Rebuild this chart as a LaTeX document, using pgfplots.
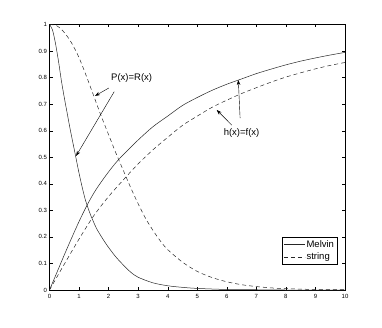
\documentclass[border=0pt]{standalone}
\usepackage{fontspec}
\setmainfont{Liberation Sans}
\usepackage{pgfplots}
\pgfplotsset{compat=1.18}
\usetikzlibrary{arrows.meta}

\begin{document}
\begin{tikzpicture}
\begin{axis}[
    name=ax, at={(0,0)}, anchor=south west,
    width=295.5pt, height=265.5pt, scale only axis,
    xmin=0, xmax=10, ymin=0, ymax=1,
    xtick={0,1,2,3,4,5,6,7,8,9,10},
    ytick={0,0.1,0.2,0.3,0.4,0.5,0.6,0.7,0.8,0.9,1},
    tick align=inside, major tick length=3pt,
    tick style={black, line width=0.4pt},
    axis line style={line width=0.6pt},
    ticklabel style={font=\fontsize{6}{7}\selectfont, /pgf/number format/assume math mode=true},
    yticklabel style={/pgf/number format/fixed, /pgf/number format/precision=1, xshift=1pt},
    xticklabel style={yshift=-1pt},
    legend style={at={(axis cs:9.74,0.097)}, anchor=south east, draw=black, line width=0.6pt,
        fill=white, font=\fontsize{9.5}{10}\selectfont, inner sep=1.5pt, row sep=1pt,
        nodes={inner sep=1.5pt}},
    legend cell align=left,
    legend image code/.code={\draw[#1] (0pt,0pt) -- (21pt,0pt);},
]

% Melvin, decreasing
\addplot[black!85, line width=0.5pt, smooth] coordinates {
    (0,1) (0.1,0.98) (0.2,0.93) (0.3,0.865) (0.4,0.79) (0.5,0.725) (0.6,0.665)
    (0.7,0.605) (0.8,0.55) (0.9,0.495) (1.0,0.44) (1.1,0.39) (1.2,0.345)
    (1.3,0.31) (1.4,0.28) (1.5,0.254) (1.6,0.23) (1.8,0.193) (2.0,0.16)
    (2.25,0.124) (2.5,0.094) (2.75,0.067) (3.0,0.048) (3.5,0.027) (4.0,0.016)
    (4.5,0.01) (5.0,0.006) (6,0.002) (7,0.001) (8,0) (10,0)
};
\addlegendentry{Melvin}

% string, decreasing
\addplot[black!85, line width=0.5pt, smooth, dash pattern=on 4pt off 3pt] coordinates {
    (0,1) (0.25,0.995) (0.5,0.97) (0.75,0.93) (1.0,0.875) (1.25,0.805)
    (1.5,0.73) (1.75,0.655) (2.0,0.585) (2.25,0.515) (2.5,0.45) (2.75,0.385)
    (3.0,0.325) (3.25,0.27) (3.5,0.225) (3.75,0.185) (4.0,0.152) (4.5,0.105)
    (5,0.07) (5.5,0.047) (6,0.031) (6.5,0.02) (7,0.013) (7.5,0.008) (8,0.005)
    (9,0.002) (10,0.001)
};
\addlegendentry{string}

% Melvin, increasing
\addplot[black!85, line width=0.5pt, smooth, forget plot] coordinates {
    (0,0) (0.25,0.066) (0.5,0.132) (0.75,0.196) (1.0,0.258) (1.25,0.315)
    (1.5,0.365) (1.75,0.407) (2.0,0.445) (2.25,0.48) (2.5,0.51) (3.0,0.565)
    (3.5,0.615) (4.0,0.655) (4.5,0.695) (5.0,0.725) (5.5,0.752) (6.0,0.775)
    (6.5,0.795) (7.0,0.815) (7.5,0.832) (8.0,0.848) (8.5,0.862) (9.0,0.874)
    (9.5,0.885) (10,0.895)
};

% string, increasing
\addplot[black!85, line width=0.5pt, smooth, dash pattern=on 4pt off 3pt, forget plot] coordinates {
    (0,0) (0.5,0.097) (1.0,0.192) (1.5,0.28) (2.0,0.352) (2.5,0.415)
    (3.0,0.475) (3.5,0.528) (4.0,0.575) (4.5,0.62) (5.0,0.655) (5.5,0.688)
    (6.0,0.715) (6.5,0.74) (7.0,0.762) (7.5,0.783) (8.0,0.802) (8.5,0.818)
    (9.0,0.833) (9.5,0.846) (10,0.857)
};

% annotations
\node[font=\fontsize{9.5}{10}\selectfont] at (axis cs:2.78,0.797) {P(x)=R(x)};
\draw[line width=0.4pt, -{Stealth[length=5pt,width=3.5pt]}] (axis cs:2.01,0.761) -- (axis cs:1.54,0.731);
\draw[line width=0.4pt, -{Stealth[length=5pt,width=3.5pt]}] (axis cs:2.19,0.747) -- (axis cs:0.90,0.505);

\node[font=\fontsize{9.5}{10}\selectfont] at (axis cs:6.50,0.59) {h(x)=f(x)};
\draw[line width=0.4pt, -{Stealth[length=5pt,width=3.5pt]}] (axis cs:6.45,0.647) -- (axis cs:6.39,0.791);
\draw[line width=0.4pt, -{Stealth[length=5pt,width=3.5pt]}] (axis cs:6.17,0.621) -- (axis cs:5.66,0.678);

\end{axis}
\path (-49.5pt,-37pt) rectangle (332.5pt,290pt);
\end{tikzpicture}
\end{document}
